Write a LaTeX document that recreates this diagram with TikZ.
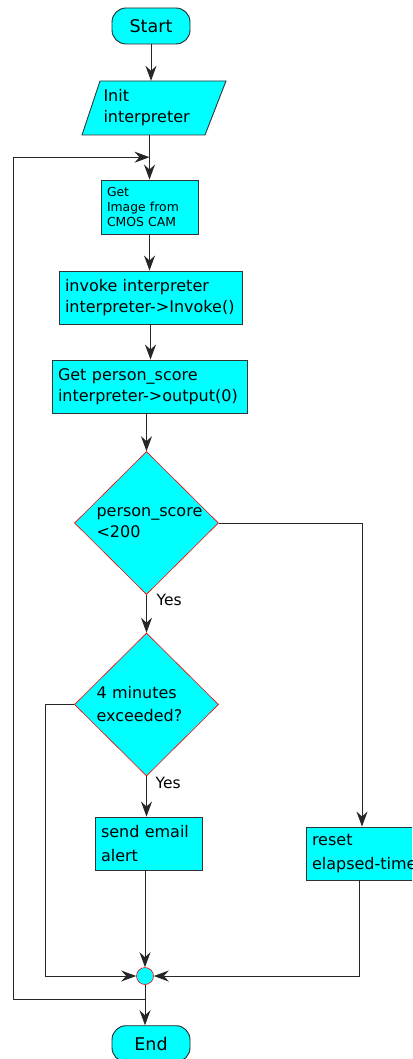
\documentclass[tikz,border=0pt]{standalone}
\usepackage{fontspec}
\setmainfont{DejaVu Sans}
\usetikzlibrary{arrows.meta,shapes.geometric,calc}
\definecolor{aqua}{RGB}{0,255,255}
\begin{document}
\begin{tikzpicture}[x=1pt,y=-1pt,
  font=\fontsize{16}{21}\selectfont,
  line/.style={draw=black!85, line width=0.9pt},
  arr/.style={line, -{Stealth[length=15pt,width=11pt,inset=5pt]}},
  box/.style={draw=black!80, line width=0.9pt, fill=aqua, rectangle, inner xsep=6pt, inner ysep=0pt, align=left},
  term/.style={draw=black!85, line width=0.9pt, fill=aqua, rounded corners=14pt, minimum width=78pt, minimum height=36pt, inner sep=0pt, font=\fontsize{17.5}{21}\selectfont},
  dec/.style={diamond, draw=red, line width=0.6pt, fill=aqua, minimum width=144pt, minimum height=143pt, inner sep=0pt, text width=100pt, align=left},
  io/.style={draw=black!80, line width=0.9pt, fill=aqua},
  yeslbl/.style={anchor=west, inner sep=0pt, font=\fontsize{15.5}{18}\selectfont},
]
\useasboundingbox (0,0) rectangle (412,1059);
\clip (0,0) rectangle (412,1059);

% nodes
\node[term] (start) at (151,26) {Start};
\path[io] (100,81) -- (226,81) -- (205,135) -- (82,135) -- cycle;
\node[inner xsep=0pt, inner ysep=0pt, minimum height=54pt, text width=92pt, align=left] (init) at (149.5,108) {Init\\interpreter};
\node[box, text width=85pt, minimum height=54pt, font=\fontsize{12.4}{15.3}\selectfont] (getimg) at (149.5,207) {Get\\Image from\\CMOS CAM};
\node[box, text width=171pt, minimum height=53pt] (invoke) at (150.5,297.5) {invoke interpreter\\\mbox{interpreter->Invoke()}};
\node[box, text width=183pt, minimum height=53pt] (getps) at (149.5,386.5) {Get person\_score\\\mbox{interpreter->output(0)}};
\node[dec] (d1) at (146.5,523) {person\_score\\<200};
\node[dec, font=\fontsize{16}{23}\selectfont] (d2) at (146.5,704.5) {4 minutes\\exceeded?};
\node[box, text width=95pt, minimum height=53pt, font=\fontsize{16}{24}\selectfont] (send) at (148.5,843.5) {send email\\alert};
\node[box, text width=100pt, minimum height=53pt, font=\fontsize{16}{24}\selectfont] (reset) at (362,853.5) {reset\\\mbox{elapsed-time}};
\node[circle, draw=red, fill=aqua, line width=0.6pt, minimum size=17pt, inner sep=0pt] (join) at (145,976) {};
\node[term] (end) at (151,1043.7) {End};

\node[yeslbl] (yes1) at (156.5,600) {Yes};
\node[yeslbl] (yes2) at (155.5,783) {Yes};

\coordinate (loopin) at ($(init.south)+(0,22)$);
\coordinate (loopout) at ($(join.south)+(0,14.5)$);

% connectors
\draw[arr] (start.south) -- (start.south |- init.north);
\draw[arr] (init.south) -- (init.south |- getimg.north);
\draw[arr] (getimg.south) -- (getimg.south |- invoke.north);
\draw[arr] (invoke.south) -- (invoke.south |- getps.north);
\draw[arr] (getps.south -| d1.north) -- (d1.north);
\draw[arr] (d1.south) -- (d2.north);
\draw[arr] (d2.south) -- (d2.south |- send.north);
\draw[arr] (join.north |- send.south) -- (join.north);
\draw[arr] (join.south) -- (join.south |- end.north);
\draw[arr] (d1.east) -| (reset.north);
\draw[arr] ([xshift=-3pt]reset.south) |- (join.east);
\draw[arr] (d2.west) -- ++(-29,0) |- (join.west);
\draw[arr] (loopout) -- ++(-132,0) |- (loopin);
\end{tikzpicture}
\end{document}
